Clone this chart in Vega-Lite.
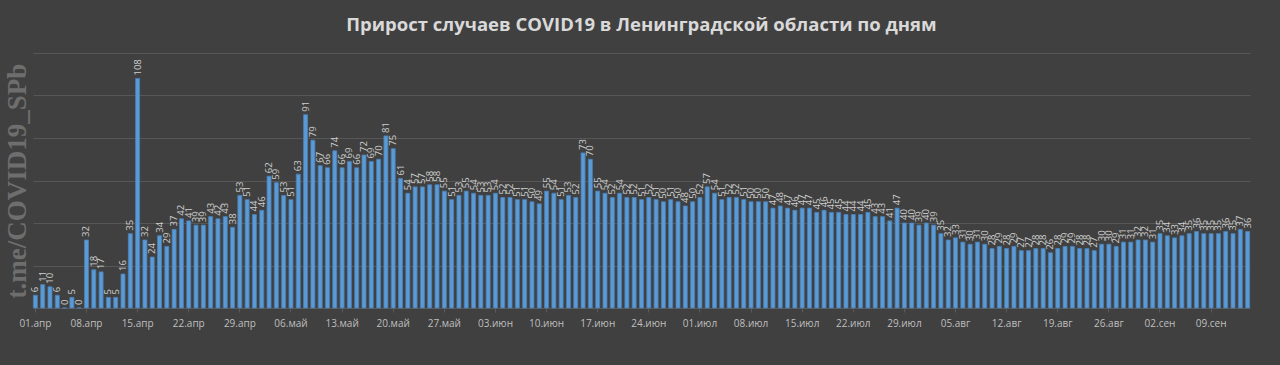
{
  "$schema": "https://vega.github.io/schema/vega-lite/v6.json",
  "autosize": "none",
  "width": 1217,
  "height": 255,
  "padding": {"left": 33, "top": 53, "right": 30, "bottom": 57},
  "background": "#404040",
  "config": {"view": {"stroke": null}},
  "title": {"text": "Прирост случаев COVID19 в Ленинградской области по дням", "font": "Open Sans", "fontSize": 18.5, "fontWeight": "bold", "color": "#d9d9d9", "anchor": "middle", "offset": 19},
  "data": {"values": [
    {"d":"01.апр","v":6},{"d":"02.апр","v":11},{"d":"03.апр","v":10},{"d":"04.апр","v":6},{"d":"05.апр","v":0},{"d":"06.апр","v":5},{"d":"07.апр","v":0},{"d":"08.апр","v":32},{"d":"09.апр","v":18},{"d":"10.апр","v":17},{"d":"11.апр","v":5},{"d":"12.апр","v":5},{"d":"13.апр","v":16},{"d":"14.апр","v":35},
    {"d":"15.апр","v":108},{"d":"16.апр","v":32},{"d":"17.апр","v":24},{"d":"18.апр","v":34},{"d":"19.апр","v":29},{"d":"20.апр","v":37},{"d":"21.апр","v":42},{"d":"22.апр","v":41},{"d":"23.апр","v":39},{"d":"24.апр","v":39},{"d":"25.апр","v":43},{"d":"26.апр","v":42},{"d":"27.апр","v":43},{"d":"28.апр","v":38},
    {"d":"29.апр","v":53},{"d":"30.апр","v":51},{"d":"01.май","v":44},{"d":"02.май","v":46},{"d":"03.май","v":62},{"d":"04.май","v":59},{"d":"05.май","v":53},{"d":"06.май","v":51},{"d":"07.май","v":63},{"d":"08.май","v":91},{"d":"09.май","v":79},{"d":"10.май","v":67},{"d":"11.май","v":66},{"d":"12.май","v":74},
    {"d":"13.май","v":66},{"d":"14.май","v":69},{"d":"15.май","v":66},{"d":"16.май","v":72},{"d":"17.май","v":69},{"d":"18.май","v":70},{"d":"19.май","v":81},{"d":"20.май","v":75},{"d":"21.май","v":61},{"d":"22.май","v":54},{"d":"23.май","v":57},{"d":"24.май","v":57},{"d":"25.май","v":58},{"d":"26.май","v":58},
    {"d":"27.май","v":55},{"d":"28.май","v":51},{"d":"29.май","v":53},{"d":"30.май","v":55},{"d":"31.май","v":54},{"d":"01.июн","v":53},{"d":"02.июн","v":53},{"d":"03.июн","v":54},{"d":"04.июн","v":52},{"d":"05.июн","v":52},{"d":"06.июн","v":51},{"d":"07.июн","v":51},{"d":"08.июн","v":50},{"d":"09.июн","v":49},
    {"d":"10.июн","v":55},{"d":"11.июн","v":54},{"d":"12.июн","v":51},{"d":"13.июн","v":53},{"d":"14.июн","v":52},{"d":"15.июн","v":73},{"d":"16.июн","v":70},{"d":"17.июн","v":55},{"d":"18.июн","v":54},{"d":"19.июн","v":52},{"d":"20.июн","v":54},{"d":"21.июн","v":52},{"d":"22.июн","v":52},{"d":"23.июн","v":51},
    {"d":"24.июн","v":52},{"d":"25.июн","v":51},{"d":"26.июн","v":50},{"d":"27.июн","v":51},{"d":"28.июн","v":50},{"d":"29.июн","v":48},{"d":"30.июн","v":50},{"d":"01.июл","v":52},{"d":"02.июл","v":57},{"d":"03.июл","v":54},{"d":"04.июл","v":51},{"d":"05.июл","v":52},{"d":"06.июл","v":52},{"d":"07.июл","v":51},
    {"d":"08.июл","v":50},{"d":"09.июл","v":50},{"d":"10.июл","v":50},{"d":"11.июл","v":47},{"d":"12.июл","v":48},{"d":"13.июл","v":47},{"d":"14.июл","v":46},{"d":"15.июл","v":47},{"d":"16.июл","v":47},{"d":"17.июл","v":45},{"d":"18.июл","v":46},{"d":"19.июл","v":45},{"d":"20.июл","v":45},{"d":"21.июл","v":44},
    {"d":"22.июл","v":44},{"d":"23.июл","v":44},{"d":"24.июл","v":45},{"d":"25.июл","v":43},{"d":"26.июл","v":43},{"d":"27.июл","v":41},{"d":"28.июл","v":47},{"d":"29.июл","v":40},{"d":"30.июл","v":40},{"d":"31.июл","v":39},{"d":"01.авг","v":40},{"d":"02.авг","v":39},{"d":"03.авг","v":35},{"d":"04.авг","v":32},
    {"d":"05.авг","v":33},{"d":"06.авг","v":31},{"d":"07.авг","v":30},{"d":"08.авг","v":31},{"d":"09.авг","v":30},{"d":"10.авг","v":28},{"d":"11.авг","v":29},{"d":"12.авг","v":28},{"d":"13.авг","v":29},{"d":"14.авг","v":27},{"d":"15.авг","v":27},{"d":"16.авг","v":28},{"d":"17.авг","v":28},{"d":"18.авг","v":26},
    {"d":"19.авг","v":28},{"d":"20.авг","v":29},{"d":"21.авг","v":29},{"d":"22.авг","v":28},{"d":"23.авг","v":28},{"d":"24.авг","v":27},{"d":"25.авг","v":30},{"d":"26.авг","v":30},{"d":"27.авг","v":29},{"d":"28.авг","v":31},{"d":"29.авг","v":31},{"d":"30.авг","v":32},{"d":"31.авг","v":32},{"d":"01.сен","v":31},
    {"d":"02.сен","v":35},{"d":"03.сен","v":34},{"d":"04.сен","v":33},{"d":"05.сен","v":34},{"d":"06.сен","v":35},{"d":"07.сен","v":36},{"d":"08.сен","v":35},{"d":"09.сен","v":35},{"d":"10.сен","v":35},{"d":"11.сен","v":36},{"d":"12.сен","v":35},{"d":"13.сен","v":37},{"d":"14.сен","v":36}
  ]},
  "encoding": {
    "x": {"field": "d", "type": "ordinal", "sort": null,
      "scale": {"paddingInner": 0.45, "paddingOuter": 0.05},
      "axis": {"title": null, "labelAngle": 0, "labelFont": "Open Sans", "labelFontSize": 10, "labelColor": "#bfbfbf", "labelPadding": 6,
        "domainColor": "#5a5a5a", "tickColor": "#5a5a5a", "tickSize": 4,
        "values": ["01.апр","08.апр","15.апр","22.апр","29.апр","06.май","13.май","20.май","27.май","03.июн","10.июн","17.июн","24.июн","01.июл","08.июл","15.июл","22.июл","29.июл","05.авг","12.авг","19.авг","26.авг","02.сен","09.сен"]}},
    "y": {"field": "v", "type": "quantitative", "scale": {"domain": [0, 120]},
      "axis": {"title": "t.me/COVID19_SPb", "titleFont": "Liberation Serif", "titleFontSize": 27, "titleFontWeight": "bold", "titleColor": "#6e6e6e", "titlePadding": 2,
        "labels": false, "ticks": false, "domain": false, "values": [20, 40, 60, 80, 100, 120], "gridColor": "#575757", "gridWidth": 1}}
  },
  "layer": [
    {"mark": {"type": "bar", "color": "#5b9bd5", "stroke": "#4a7fb5", "strokeWidth": 0.8}},
    {"mark": {"type": "text", "angle": 270, "align": "left", "baseline": "middle", "dx": 3, "font": "Open Sans", "fontSize": 9.5, "color": "#cfcfcf"},
      "encoding": {"text": {"field": "v", "type": "quantitative"}}}
  ]
}
